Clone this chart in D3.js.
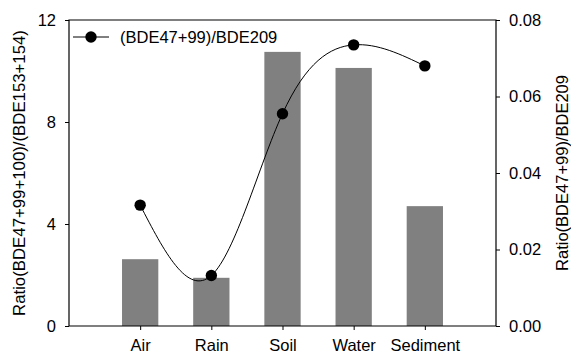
<!DOCTYPE html>
<html>
<head>
<meta charset="utf-8">
<script src="https://cdn.jsdelivr.net/npm/d3@7"></script>
<style>
  body { margin: 0; background: #fff; }
  svg { font-family: Arial, "Liberation Sans", sans-serif; }
</style>
</head>
<body>
<div class="canvas"></div>
<script>
// Data
const categories = ['Air', 'Rain', 'Soil', 'Water', 'Sediment'];
const barValues = [2.62, 1.89, 10.75, 10.12, 4.7];       // (BDE47+99+100)/(BDE153+154)
const lineValues = [0.0316, 0.0132, 0.0555, 0.0735, 0.068]; // (BDE47+99)/BDE209
const leftTicks = [0, 4, 8, 12];
const rightTicks = [0, 0.02, 0.04, 0.06, 0.08];

const width = 571, height = 355;
const margin = { top: 20, right: 75, bottom: 29, left: 69 };

const svg = d3.select('.canvas')
    .append('svg')
    .attr('width', width)
    .attr('height', height);

const x = d3.scalePoint()
    .domain(categories)
    .range([margin.left, width - margin.right])
    .padding(1);

const yLeft = d3.scaleLinear()
    .domain([0, 12])
    .range([height - margin.bottom, margin.top]);

const yRight = d3.scaleLinear()
    .domain([0, 0.08])
    .range([height - margin.bottom, margin.top]);

const barWidth = x.step() * 0.51;

// bars
svg.append('g')
    .selectAll('rect')
    .data(barValues)
    .join('rect')
    .attr('x', (d, i) => x(categories[i]) - barWidth / 2)
    .attr('y', d => yLeft(d))
    .attr('width', barWidth)
    .attr('height', d => yLeft(0) - yLeft(d))
    .attr('fill', '#808080');

// smooth line
const line = d3.line()
    .x((d, i) => x(categories[i]))
    .y(d => yRight(d))
    .curve(d3.curveNatural);

svg.append('path')
    .datum(lineValues)
    .attr('d', line)
    .attr('fill', 'none')
    .attr('stroke', '#000')
    .attr('stroke-width', 1);

svg.append('g')
    .selectAll('circle')
    .data(lineValues)
    .join('circle')
    .attr('cx', (d, i) => x(categories[i]))
    .attr('cy', d => yRight(d))
    .attr('r', 5.7)
    .attr('fill', '#000');

// axes
const fontSize = '16.5px';

const gLeft = svg.append('g')
    .attr('transform', `translate(${margin.left},0)`)
    .call(d3.axisLeft(yLeft).tickValues(leftTicks).tickSize(4).tickPadding(9).tickFormat(d3.format('d')));

const gRight = svg.append('g')
    .attr('transform', `translate(${width - margin.right},0)`)
    .call(d3.axisRight(yRight).tickValues(rightTicks).tickSize(4).tickPadding(9).tickFormat(d3.format('.2f')));

const gBottom = svg.append('g')
    .attr('transform', `translate(0,${height - margin.bottom})`)
    .call(d3.axisBottom(x).tickSize(4).tickPadding(9));

[gLeft, gRight, gBottom].forEach(g => {
    g.select('.domain').remove();
    g.selectAll('text').style('font-size', fontSize).attr('fill', '#000')
        .style('font-family', 'Arial, "Liberation Sans", sans-serif');
    g.selectAll('line').attr('stroke', '#000');
});

// frame: left, right, top, bottom lines
const x0 = margin.left, x1 = width - margin.right;
const y0 = margin.top, y1 = height - margin.bottom;
svg.append('path')
    .attr('d', `M${x0},${y1}V${y0}H${x1}V${y1}H${x0}`)
    .attr('fill', 'none')
    .attr('stroke', '#000')
    .attr('stroke-width', 1.2);

// axis titles
svg.append('text')
    .attr('transform', `translate(24.5,${(y0 + y1) / 2}) rotate(-90)`)
    .attr('text-anchor', 'middle')
    .style('font-size', '16.8px')
    .text('Ratio(BDE47+99+100)/(BDE153+154)');

svg.append('text')
    .attr('transform', `translate(568,${(y0 + y1) / 2}) rotate(-90)`)
    .attr('text-anchor', 'middle')
    .style('font-size', fontSize)
    .text('Ratio(BDE47+99)/BDE209');

// legend
const leg = svg.append('g').attr('transform', `translate(73,37)`);
leg.append('line').attr('x1', 0).attr('x2', 36).attr('stroke', '#000');
leg.append('circle').attr('cx', 18).attr('r', 5.7).attr('fill', '#000');
leg.append('text')
    .attr('x', 47)
    .attr('dominant-baseline', 'central')
    .style('font-size', fontSize)
    .text('(BDE47+99)/BDE209');
</script>
</body>
</html>
